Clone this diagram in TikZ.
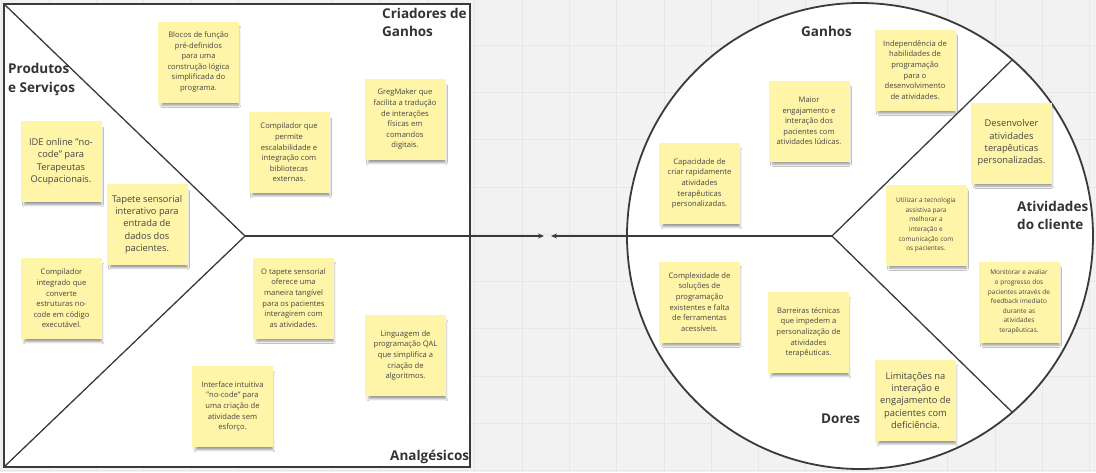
\documentclass[tikz,border=0pt]{standalone}
\usepackage{fontspec}
\setmainfont{Open Sans}
\usetikzlibrary{arrows.meta,shadows.blur}
\definecolor{bg}{HTML}{F2F2F2}
\definecolor{gridc}{HTML}{E7E7E7}
\definecolor{ink}{HTML}{3A3A3A}
\definecolor{sticky}{HTML}{FEF5A8}
\definecolor{txt}{HTML}{454545}
\definecolor{ttl}{HTML}{333333}
\begin{document}
\begin{tikzpicture}[x=1pt,y=-1pt,
  note/.style={fill=sticky, minimum width=81pt, minimum height=81pt, inner sep=0pt,
    align=center, text=txt,
    blur shadow={shadow xshift=2pt, shadow yshift=-5pt, shadow scale=0.95, shadow opacity=40, shadow blur steps=6}},
  fs/.style={font=\fontsize{6.5}{9.6}\selectfont},
  fm/.style={font=\fontsize{7.6}{10.6}\selectfont},
  fl/.style={font=\fontsize{9.3}{12.3}\selectfont},
  title/.style={font=\bfseries\fontsize{13.5}{18}\selectfont, text=ttl, inner sep=0pt, anchor=base west},
  frame/.style={draw=ink, line width=1.8pt},
  divider/.style={draw=ink, line width=1.3pt},
  conn/.style={draw=ink, line width=1.3pt, -{Stealth[length=6pt,width=5pt]}}
]
\useasboundingbox (0,0) rectangle (1096,472);
% background
\fill[bg] (0,0) rectangle (1096,472);
\foreach \k in {-11,...,12} {
  \draw[gridc, line width=0.8pt] ({522+47.3*\k},0) -- ({522+47.3*\k},472);
}
\foreach \k in {-1,...,9} {
  \draw[gridc, line width=0.8pt] (0,{45+47.3*\k}) -- (1096,{45+47.3*\k});
}
% shapes
\coordinate (sqTL) at (4,4);
\coordinate (sqBR) at (470,467);
\coordinate (sqBL) at (4,467);
\coordinate (apexL) at (245,236);
\coordinate (tipL) at (544,236);
\coordinate (cc) at (860,236);
\coordinate (apexR) at (832,236);
\coordinate (tipR) at (551,236);
\coordinate (cTop) at (1012,60);
\coordinate (cBot) at (1012,412);
\path[frame, fill=white] (sqTL) rectangle (sqBR);
\path[frame, fill=white] (cc) circle[radius=233];
\draw[divider] (sqTL) -- (apexL) -- (sqBL);
\draw[divider] (cTop) -- (apexR) -- (cBot);
\draw[conn] (apexL) -- (tipL);
\draw[conn] (apexR) -- (tipR);
% titles
\node[title] (tProd1) at (8,73) {Produtos};
\node[title] (tProd2) at (8,92) {e Serviços};
\node[title] (tCri1) at (382,18.5) {Criadores de};
\node[title] (tCri2) at (382,36.5) {Ganhos};
\node[title] (tAnal) at (390,460) {Analgésicos};
\node[title] (tGan) at (801,36.5) {Ganhos};
\node[title] (tAtiv1) at (1017,211.5) {Atividades};
\node[title] (tAtiv2) at (1017,229) {do cliente};
\node[title] (tDor) at (821,423.3) {Dores};
% notes - left square
\node[note, fm] (n1) at (198.5,62) {Blocos de função\\pré-definidos\\para uma\\construção lógica\\simplificada do\\programa.};
\node[note, fl] (n2) at (61,161.5) {IDE online "no-\\code" para\\Terapeutas\\Ocupacionais.};
\node[note, fl] (n3) at (147,224.5) {Tapete sensorial\\interativo para\\entrada de\\dados dos\\pacientes.};
\node[note, fm] (n4) at (289,152.5) {Compilador que\\permite\\escalabilidade e\\integração com\\bibliotecas\\externas.};
\node[note, fm] (n5) at (405,119.5) {GregMaker que\\facilita a tradução\\de interações\\físicas em\\comandos\\digitais.};
\node[note, fm] (n6) at (61.5,298.5) {Compilador\\integrado que\\converte\\estruturas no-\\code em código\\executável.};
\node[note, fm] (n7) at (293.5,298) {O tapete sensorial\\oferece uma\\maneira tangível\\para os pacientes\\interagirem com\\as atividades.};
\node[note, fm] (n8) at (405.5,355.5) {Linguagem de\\programação QAL\\que simplifica a\\criação de\\algoritmos.};
\node[note, fm] (n9) at (232.5,406.5) {Interface intuitiva\\"no-code" para\\uma criação de\\atividade sem\\esforço.};
% notes - circle
\node[note, fm] (n10) at (809,121) {Maior\\engajamento e\\interação dos\\pacientes com\\atividades lúdicas.};
\node[note, fm] (n11) at (699.5,183.5) {Capacidade de\\criar rapidamente\\atividades\\terapêuticas\\personalizadas.};
\node[note, fm] (n12) at (915,70) {Independência de\\habilidades de\\programação\\para o\\desenvolvimento\\de atividades.};
\node[note, fl] (n13) at (1011.5,143) {Desenvolver\\atividades\\terapêuticas\\personalizadas.};
\node[note, fs] (n14) at (926,225) {Utilizar a tecnologia\\assistiva para\\melhorar a\\interação e\\comunicação com\\os pacientes.};
\node[note, fs] (n15) at (1019,302) {Monitorar e avaliar\\o progresso dos\\pacientes através de\\feedback imediato\\durante as\\atividades\\terapêuticas.};
\node[note, fl] (n16) at (915.5,400.5) {Limitações na\\interação e\\engajamento de\\pacientes com\\deficiência.};
\node[note, fm] (n17) at (699.5,302) {Complexidade de\\soluções de\\programação\\existentes e falta\\de ferramentas\\acessíveis.};
\node[note, fm] (n18) at (808.5,332.5) {Barreiras técnicas\\que impedem a\\personalização de\\atividades\\terapêuticas.};
\end{tikzpicture}
\end{document}
